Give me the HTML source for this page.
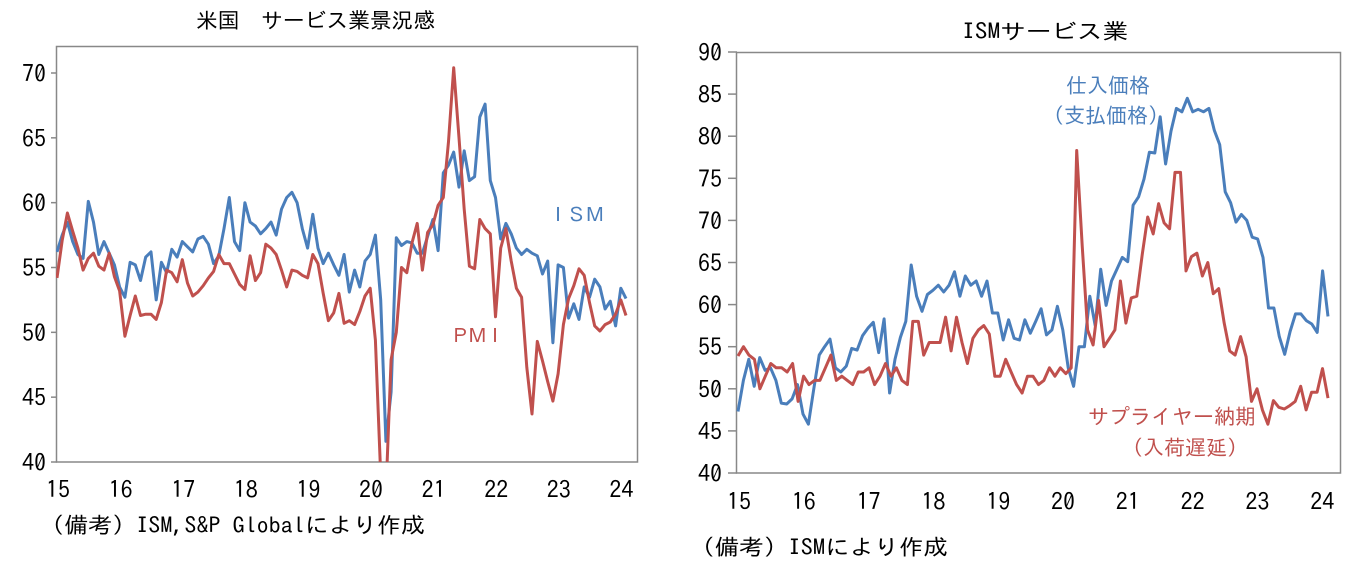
<!DOCTYPE html>
<html><head><meta charset="utf-8">
<style>
body{margin:0;background:#fff;}
svg{display:block;}
text{font-family:"IPAGothic","Noto Sans CJK JP",sans-serif;}
.t{font-family:"IPAGothic","Liberation Sans",sans-serif;font-size:24px;fill:#000;}
</style></head><body>
<svg id="s" width="1355" height="561" viewBox="0 0 1355 561" xmlns="http://www.w3.org/2000/svg">
<text x="196" y="28" font-size="21.5" textLength="239" lengthAdjust="spacingAndGlyphs">米国　サービス業景況感</text>
<text x="962" y="39" font-size="21.5" textLength="166" lengthAdjust="spacingAndGlyphs">ISMサービス業</text>
<rect x="56.5" y="46.5" width="581" height="415.5" fill="none" stroke="#888" stroke-width="1.5"/>
<rect x="736.5" y="52.5" width="604" height="420.5" fill="none" stroke="#888" stroke-width="1.5"/>
<g id="g"></g>
<text x="548" y="222" font-size="20" fill="#4a7ebb" textLength="57" lengthAdjust="spacing">ＩＳＭ</text>
<text x="450" y="343" font-size="20" fill="#c0504d" textLength="55" lengthAdjust="spacing">ＰＭＩ</text>
<text x="1108" y="93" font-size="21" fill="#4a7ebb" text-anchor="middle">仕入価格</text>
<text x="1106" y="123" font-size="21" fill="#4a7ebb" text-anchor="middle">(支払価格)</text>
<text x="1172" y="424" font-size="21" fill="#c0504d" text-anchor="middle">サプライヤー納期</text>
<text x="1185" y="455" font-size="21" fill="#c0504d" text-anchor="middle">（入荷遅延）</text>
<text x="40" y="533" font-size="22" textLength="385" lengthAdjust="spacingAndGlyphs">（備考）ISM,S&amp;P Globalにより作成</text>
<text x="690" y="555" font-size="22" textLength="258" lengthAdjust="spacingAndGlyphs">（備考）ISMにより作成</text>
</svg>
<script>
var g=document.getElementById('g'),NS='http://www.w3.org/2000/svg';
function el(n,a,t){var e=document.createElementNS(NS,n);for(var k in a)e.setAttribute(k,a[k]);if(t!==undefined)e.textContent=t;g.appendChild(e);return e;}
var L={x0:57,x1:626,top:46,bot:462,min:40,max:70};
function yL(v){return L.bot-(v-L.min)*(L.bot-73)/30;}
for(var v=40;v<=70;v+=5){var y=yL(v);el('line',{x1:51,x2:57,y1:y,y2:y,stroke:'#888','stroke-width':1.5});el('text',{x:46,y:y+9,'text-anchor':'end','class':'t'},v);}
for(var i=0;i<10;i++){el('text',{x:58+i*62.6,y:498,'text-anchor':'middle','class':'t'},15+i);}
var ism=[56.2,57.5,58.5,57,56,55.7,60.1,58.5,56,57,56.1,55.2,53.5,52.7,55.4,55.2,54,55.8,56.2,52.5,55.4,54.6,56.4,55.8,57,56.6,56.2,57.2,57.4,56.8,55.3,55.9,58,60.4,57,56.3,60,58.5,58.2,57.6,58,58.5,57.5,59.5,60.4,60.8,60,58,56.5,59.1,56.5,55.3,56.1,55.2,54.4,56,53.1,54.8,53.5,55.5,56,57.5,52.5,41.6,45.4,57.3,56.7,57,56.9,56.1,56.1,57.4,58.7,56.3,62.3,62.9,63.9,61.2,64,61.7,62,66.6,67.6,61.7,60.4,57.2,58.4,57.6,56.5,56,56.4,56.1,55.9,54.5,55.5,49.2,55.2,55,51.1,52.2,51,53.5,52.7,54.1,53.5,51.8,52.4,50.5,53.4,52.6];
var pmi=[54.2,57.1,59.2,57.8,56.5,54.8,55.7,56.1,55.1,54.8,56.1,54.3,53.2,49.7,51.3,52.8,51.3,51.4,51.4,51,52.3,54.8,54.6,53.9,55.6,53.8,52.8,53.1,53.6,54.2,54.7,56,55.3,55.3,54.5,53.7,53.3,55.9,54,54.6,56.8,56.5,56,54.8,53.5,54.8,54.7,54.4,54.2,56,55.3,53,50.9,51.5,53,50.7,50.9,50.6,51.6,52.8,53.4,49.4,39,37.5,47.9,50,55,54.6,56.9,58.4,54.8,57.7,58.3,59.8,60.4,64.7,70.4,65,59.5,55.1,54.9,58.7,58,57.6,51.2,56.5,58,55.5,53.4,52.7,47.3,43.7,49.3,47.8,46.2,44.7,46.8,50.6,52.6,53.6,54.9,54.4,52.3,50.5,50.1,50.6,50.8,51.4,52.5,51.3];
function line(d,x0,x1,yf,c,clip){var p=d.map(function(v,i){return (x0+i*(x1-x0)/(d.length-1)).toFixed(1)+','+yf(v).toFixed(1)}).join(' ');var e=el('polyline',{points:p,fill:'none',stroke:c,'stroke-width':3,'stroke-linejoin':'round'});if(clip)e.setAttribute('clip-path','url(#'+clip+')');}
var defs=document.createElementNS(NS,'defs');defs.innerHTML='<clipPath id="cl"><rect x="56" y="40" width="590" height="422"/></clipPath>';g.appendChild(defs);
line(ism,L.x0,L.x1,yL,'#4a7ebb','cl');
line(pmi,L.x0,L.x1,yL,'#c0504d','cl');
function yR(v){return 473-(v-40)*(473-52)/50;}
for(var v=40;v<=90;v+=5){var y=yR(v);el('line',{x1:728,x2:737,y1:y,y2:y,stroke:'#888','stroke-width':1.5});el('text',{x:722,y:y+9,'text-anchor':'end','class':'t'},v);}
for(var i=0;i<10;i++){el('text',{x:739+i*64.8,y:510,'text-anchor':'middle','class':'t'},15+i);}
var pr=[47.3,51,53.5,50.3,53.7,52.2,52.5,51,48.3,48.2,48.8,50.5,47,45.8,50,54,55,55.9,52.5,52,52.7,54.8,54.6,56.3,57.2,57.9,54.3,58.3,49.5,53.5,56.1,58,64.7,61,59.2,61.2,61.7,62.3,61.5,62.3,63.9,61,63.4,62.3,62.8,61,62.8,59,59,55.8,58.2,56,55.8,58.2,56.6,58,59.5,56.4,57,59.8,57,52.5,50.3,55,55,61,57.5,64.2,59.9,62.8,64.2,65.6,65.1,71.8,72.8,74.9,78.1,78,82.3,76.7,80.6,83.3,82.9,84.5,82.9,83.2,82.9,83.3,80.7,79,73.4,72.1,69.8,70.7,70,68,67.8,65.6,59.6,59.6,56.2,54.1,56.8,58.9,58.9,58.1,57.7,56.7,64,58.6];
var sd=[53.9,55,54,53.5,50,51.5,53,52.5,52.5,52,53,48.5,51.5,50.5,51,51,52.5,54,51,51.5,51,50.5,52,52,52.5,50.5,51.5,53,51.5,52.5,51,50.5,58,58,54,55.5,55.5,55.5,58.5,54.5,58.5,55.5,53,56,57,57.5,56.5,51.5,51.5,53.5,52,50.5,49.5,51.5,51.5,50.5,51,52.5,51.5,52.5,51.8,52.5,78.3,67,57,55.2,60.5,55,56,57,62.8,57.8,60.8,61,66,70.4,68.4,72,69.7,69,75.7,75.7,64,65.7,66.1,63.4,65,61.3,61.9,57.8,54.5,54,56.2,53.8,48.5,50,47.5,45.8,48.6,47.8,47.6,48,48.5,50.3,47.5,49.6,49.6,52.4,48.9];
line(pr,738,1328,yR,'#4a7ebb');
line(sd,738,1328,yR,'#c0504d');
</script>
</body></html>
